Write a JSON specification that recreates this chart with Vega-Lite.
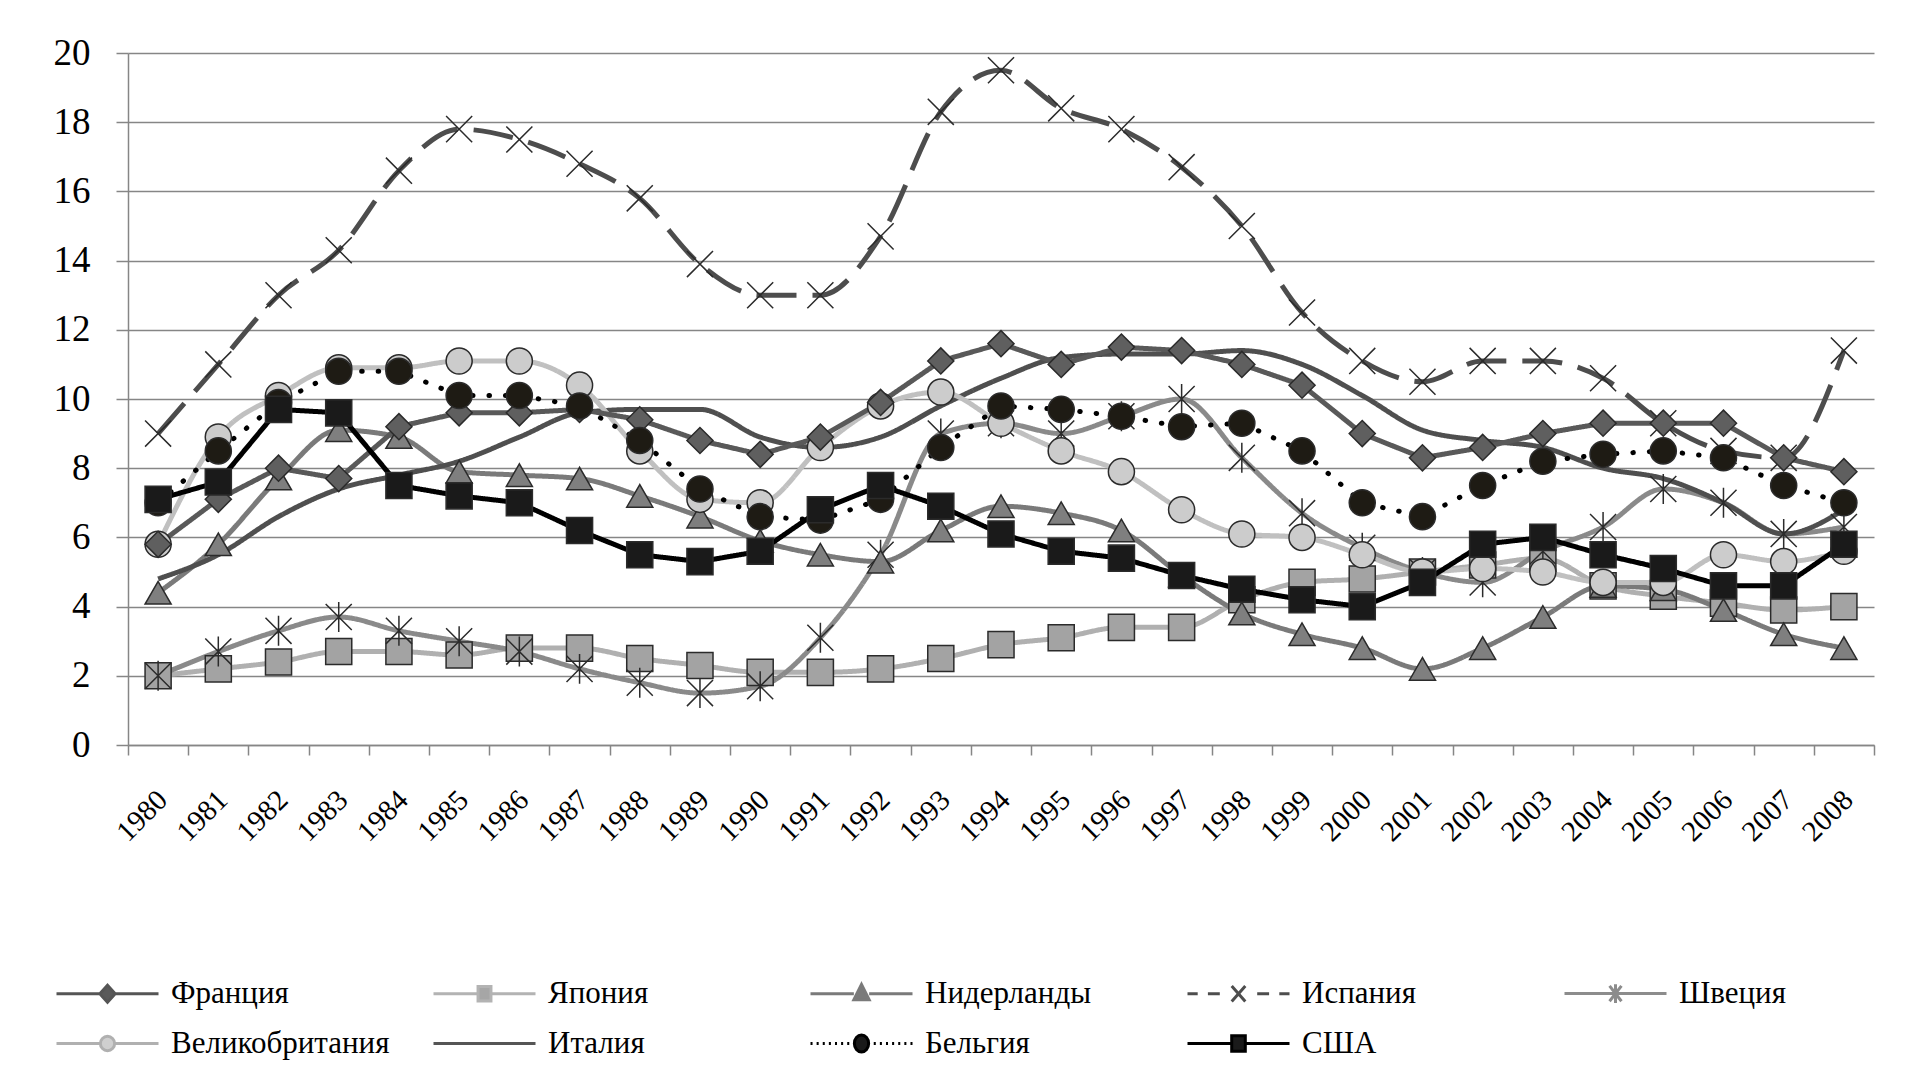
{
"$schema": "https://vega.github.io/schema/vega-lite/v6.json",
"autosize": "none",
"width": 1746,
"height": 692,
"padding": {"left": 128, "top": 53, "right": 33, "bottom": 332},
"background": "white",
"config": {"view": {"stroke": null}, "font": "Liberation Serif"},
"data": {"values": [
{"c":"Япония","t":"1980","v":2.0},{"c":"Япония","t":"1981","v":2.2},{"c":"Япония","t":"1982","v":2.4},{"c":"Япония","t":"1983","v":2.7},{"c":"Япония","t":"1984","v":2.7},{"c":"Япония","t":"1985","v":2.6},{"c":"Япония","t":"1986","v":2.8},{"c":"Япония","t":"1987","v":2.8},{"c":"Япония","t":"1988","v":2.5},{"c":"Япония","t":"1989","v":2.3},{"c":"Япония","t":"1990","v":2.1},{"c":"Япония","t":"1991","v":2.1},{"c":"Япония","t":"1992","v":2.2},{"c":"Япония","t":"1993","v":2.5},{"c":"Япония","t":"1994","v":2.9},{"c":"Япония","t":"1995","v":3.1},{"c":"Япония","t":"1996","v":3.4},{"c":"Япония","t":"1997","v":3.4},{"c":"Япония","t":"1998","v":4.2},{"c":"Япония","t":"1999","v":4.7},{"c":"Япония","t":"2000","v":4.8},{"c":"Япония","t":"2001","v":5.0},{"c":"Япония","t":"2002","v":5.2},{"c":"Япония","t":"2003","v":5.4},{"c":"Япония","t":"2004","v":4.6},{"c":"Япония","t":"2005","v":4.3},{"c":"Япония","t":"2006","v":4.1},{"c":"Япония","t":"2007","v":3.9},{"c":"Япония","t":"2008","v":4.0},
{"c":"Швеция","t":"1980","v":2.0},{"c":"Швеция","t":"1981","v":2.7},{"c":"Швеция","t":"1982","v":3.3},{"c":"Швеция","t":"1983","v":3.7},{"c":"Швеция","t":"1984","v":3.3},{"c":"Швеция","t":"1985","v":3.0},{"c":"Швеция","t":"1986","v":2.7},{"c":"Швеция","t":"1987","v":2.2},{"c":"Швеция","t":"1988","v":1.8},{"c":"Швеция","t":"1989","v":1.5},{"c":"Швеция","t":"1990","v":1.7},{"c":"Швеция","t":"1991","v":3.1},{"c":"Швеция","t":"1992","v":5.5},{"c":"Швеция","t":"1993","v":9.0},{"c":"Швеция","t":"1994","v":9.3},{"c":"Швеция","t":"1995","v":9.0},{"c":"Швеция","t":"1996","v":9.5},{"c":"Швеция","t":"1997","v":10.0},{"c":"Швеция","t":"1998","v":8.3},{"c":"Швеция","t":"1999","v":6.7},{"c":"Швеция","t":"2000","v":5.7},{"c":"Швеция","t":"2001","v":5.0},{"c":"Швеция","t":"2002","v":4.7},{"c":"Швеция","t":"2003","v":5.6},{"c":"Швеция","t":"2004","v":6.3},{"c":"Швеция","t":"2005","v":7.4},{"c":"Швеция","t":"2006","v":7.0},{"c":"Швеция","t":"2007","v":6.1},{"c":"Швеция","t":"2008","v":6.3},
{"c":"Нидерланды","t":"1980","v":4.4},{"c":"Нидерланды","t":"1981","v":5.8},{"c":"Нидерланды","t":"1982","v":7.7},{"c":"Нидерланды","t":"1983","v":9.1},{"c":"Нидерланды","t":"1984","v":8.9},{"c":"Нидерланды","t":"1985","v":7.9},{"c":"Нидерланды","t":"1986","v":7.8},{"c":"Нидерланды","t":"1987","v":7.7},{"c":"Нидерланды","t":"1988","v":7.2},{"c":"Нидерланды","t":"1989","v":6.6},{"c":"Нидерланды","t":"1990","v":5.9},{"c":"Нидерланды","t":"1991","v":5.5},{"c":"Нидерланды","t":"1992","v":5.3},{"c":"Нидерланды","t":"1993","v":6.2},{"c":"Нидерланды","t":"1994","v":6.9},{"c":"Нидерланды","t":"1995","v":6.7},{"c":"Нидерланды","t":"1996","v":6.2},{"c":"Нидерланды","t":"1997","v":4.9},{"c":"Нидерланды","t":"1998","v":3.8},{"c":"Нидерланды","t":"1999","v":3.2},{"c":"Нидерланды","t":"2000","v":2.8},{"c":"Нидерланды","t":"2001","v":2.2},{"c":"Нидерланды","t":"2002","v":2.8},{"c":"Нидерланды","t":"2003","v":3.7},{"c":"Нидерланды","t":"2004","v":4.6},{"c":"Нидерланды","t":"2005","v":4.5},{"c":"Нидерланды","t":"2006","v":3.9},{"c":"Нидерланды","t":"2007","v":3.2},{"c":"Нидерланды","t":"2008","v":2.8},
{"c":"Испания","t":"1980","v":9.0},{"c":"Испания","t":"1981","v":11.0},{"c":"Испания","t":"1982","v":13.0},{"c":"Испания","t":"1983","v":14.3},{"c":"Испания","t":"1984","v":16.6},{"c":"Испания","t":"1985","v":17.8},{"c":"Испания","t":"1986","v":17.5},{"c":"Испания","t":"1987","v":16.8},{"c":"Испания","t":"1988","v":15.8},{"c":"Испания","t":"1989","v":13.9},{"c":"Испания","t":"1990","v":13.0},{"c":"Испания","t":"1991","v":13.0},{"c":"Испания","t":"1992","v":14.7},{"c":"Испания","t":"1993","v":18.3},{"c":"Испания","t":"1994","v":19.5},{"c":"Испания","t":"1995","v":18.4},{"c":"Испания","t":"1996","v":17.8},{"c":"Испания","t":"1997","v":16.7},{"c":"Испания","t":"1998","v":15.0},{"c":"Испания","t":"1999","v":12.5},{"c":"Испания","t":"2000","v":11.1},{"c":"Испания","t":"2001","v":10.5},{"c":"Испания","t":"2002","v":11.1},{"c":"Испания","t":"2003","v":11.1},{"c":"Испания","t":"2004","v":10.6},{"c":"Испания","t":"2005","v":9.3},{"c":"Испания","t":"2006","v":8.5},{"c":"Испания","t":"2007","v":8.3},{"c":"Испания","t":"2008","v":11.4},
{"c":"Италия","t":"1980","v":4.8},{"c":"Италия","t":"1981","v":5.5},{"c":"Италия","t":"1982","v":6.6},{"c":"Италия","t":"1983","v":7.4},{"c":"Италия","t":"1984","v":7.8},{"c":"Италия","t":"1985","v":8.2},{"c":"Италия","t":"1986","v":8.9},{"c":"Италия","t":"1987","v":9.6},{"c":"Италия","t":"1988","v":9.7},{"c":"Италия","t":"1989","v":9.7},{"c":"Италия","t":"1990","v":8.9},{"c":"Италия","t":"1991","v":8.6},{"c":"Италия","t":"1992","v":8.9},{"c":"Италия","t":"1993","v":9.8},{"c":"Италия","t":"1994","v":10.6},{"c":"Италия","t":"1995","v":11.2},{"c":"Италия","t":"1996","v":11.3},{"c":"Италия","t":"1997","v":11.3},{"c":"Италия","t":"1998","v":11.4},{"c":"Италия","t":"1999","v":11.0},{"c":"Италия","t":"2000","v":10.1},{"c":"Италия","t":"2001","v":9.1},{"c":"Италия","t":"2002","v":8.8},{"c":"Италия","t":"2003","v":8.6},{"c":"Италия","t":"2004","v":8.0},{"c":"Италия","t":"2005","v":7.7},{"c":"Италия","t":"2006","v":7.0},{"c":"Италия","t":"2007","v":6.1},{"c":"Италия","t":"2008","v":6.8},
{"c":"Великобритания","t":"1980","v":5.8},{"c":"Великобритания","t":"1981","v":8.9},{"c":"Великобритания","t":"1982","v":10.1},{"c":"Великобритания","t":"1983","v":10.9},{"c":"Великобритания","t":"1984","v":10.9},{"c":"Великобритания","t":"1985","v":11.1},{"c":"Великобритания","t":"1986","v":11.1},{"c":"Великобритания","t":"1987","v":10.4},{"c":"Великобритания","t":"1988","v":8.5},{"c":"Великобритания","t":"1989","v":7.1},{"c":"Великобритания","t":"1990","v":7.0},{"c":"Великобритания","t":"1991","v":8.6},{"c":"Великобритания","t":"1992","v":9.8},{"c":"Великобритания","t":"1993","v":10.2},{"c":"Великобритания","t":"1994","v":9.3},{"c":"Великобритания","t":"1995","v":8.5},{"c":"Великобритания","t":"1996","v":7.9},{"c":"Великобритания","t":"1997","v":6.8},{"c":"Великобритания","t":"1998","v":6.1},{"c":"Великобритания","t":"1999","v":6.0},{"c":"Великобритания","t":"2000","v":5.5},{"c":"Великобритания","t":"2001","v":5.0},{"c":"Великобритания","t":"2002","v":5.1},{"c":"Великобритания","t":"2003","v":5.0},{"c":"Великобритания","t":"2004","v":4.7},{"c":"Великобритания","t":"2005","v":4.7},{"c":"Великобритания","t":"2006","v":5.5},{"c":"Великобритания","t":"2007","v":5.3},{"c":"Великобритания","t":"2008","v":5.6},
{"c":"Франция","t":"1980","v":5.8},{"c":"Франция","t":"1981","v":7.1},{"c":"Франция","t":"1982","v":8.0},{"c":"Франция","t":"1983","v":7.7},{"c":"Франция","t":"1984","v":9.2},{"c":"Франция","t":"1985","v":9.6},{"c":"Франция","t":"1986","v":9.6},{"c":"Франция","t":"1987","v":9.7},{"c":"Франция","t":"1988","v":9.4},{"c":"Франция","t":"1989","v":8.8},{"c":"Франция","t":"1990","v":8.4},{"c":"Франция","t":"1991","v":8.9},{"c":"Франция","t":"1992","v":9.9},{"c":"Франция","t":"1993","v":11.1},{"c":"Франция","t":"1994","v":11.6},{"c":"Франция","t":"1995","v":11.0},{"c":"Франция","t":"1996","v":11.5},{"c":"Франция","t":"1997","v":11.4},{"c":"Франция","t":"1998","v":11.0},{"c":"Франция","t":"1999","v":10.4},{"c":"Франция","t":"2000","v":9.0},{"c":"Франция","t":"2001","v":8.3},{"c":"Франция","t":"2002","v":8.6},{"c":"Франция","t":"2003","v":9.0},{"c":"Франция","t":"2004","v":9.3},{"c":"Франция","t":"2005","v":9.3},{"c":"Франция","t":"2006","v":9.3},{"c":"Франция","t":"2007","v":8.3},{"c":"Франция","t":"2008","v":7.9},
{"c":"Бельгия","t":"1980","v":7.0},{"c":"Бельгия","t":"1981","v":8.5},{"c":"Бельгия","t":"1982","v":9.9},{"c":"Бельгия","t":"1983","v":10.8},{"c":"Бельгия","t":"1984","v":10.8},{"c":"Бельгия","t":"1985","v":10.1},{"c":"Бельгия","t":"1986","v":10.1},{"c":"Бельгия","t":"1987","v":9.8},{"c":"Бельгия","t":"1988","v":8.8},{"c":"Бельгия","t":"1989","v":7.4},{"c":"Бельгия","t":"1990","v":6.6},{"c":"Бельгия","t":"1991","v":6.5},{"c":"Бельгия","t":"1992","v":7.1},{"c":"Бельгия","t":"1993","v":8.6},{"c":"Бельгия","t":"1994","v":9.8},{"c":"Бельгия","t":"1995","v":9.7},{"c":"Бельгия","t":"1996","v":9.5},{"c":"Бельгия","t":"1997","v":9.2},{"c":"Бельгия","t":"1998","v":9.3},{"c":"Бельгия","t":"1999","v":8.5},{"c":"Бельгия","t":"2000","v":7.0},{"c":"Бельгия","t":"2001","v":6.6},{"c":"Бельгия","t":"2002","v":7.5},{"c":"Бельгия","t":"2003","v":8.2},{"c":"Бельгия","t":"2004","v":8.4},{"c":"Бельгия","t":"2005","v":8.5},{"c":"Бельгия","t":"2006","v":8.3},{"c":"Бельгия","t":"2007","v":7.5},{"c":"Бельгия","t":"2008","v":7.0},
{"c":"США","t":"1980","v":7.1},{"c":"США","t":"1981","v":7.6},{"c":"США","t":"1982","v":9.7},{"c":"США","t":"1983","v":9.6},{"c":"США","t":"1984","v":7.5},{"c":"США","t":"1985","v":7.2},{"c":"США","t":"1986","v":7.0},{"c":"США","t":"1987","v":6.2},{"c":"США","t":"1988","v":5.5},{"c":"США","t":"1989","v":5.3},{"c":"США","t":"1990","v":5.6},{"c":"США","t":"1991","v":6.8},{"c":"США","t":"1992","v":7.5},{"c":"США","t":"1993","v":6.9},{"c":"США","t":"1994","v":6.1},{"c":"США","t":"1995","v":5.6},{"c":"США","t":"1996","v":5.4},{"c":"США","t":"1997","v":4.9},{"c":"США","t":"1998","v":4.5},{"c":"США","t":"1999","v":4.2},{"c":"США","t":"2000","v":4.0},{"c":"США","t":"2001","v":4.7},{"c":"США","t":"2002","v":5.8},{"c":"США","t":"2003","v":6.0},{"c":"США","t":"2004","v":5.5},{"c":"США","t":"2005","v":5.1},{"c":"США","t":"2006","v":4.6},{"c":"США","t":"2007","v":4.6},{"c":"США","t":"2008","v":5.8}
]},
"encoding": {
  "x": {"field": "t", "type": "ordinal", "bandPosition": 0.5,
        "scale": {"type": "band", "paddingInner": 0, "paddingOuter": 0},
        "axis": {"title": null, "labelAngle": -45, "labelAlign": "right", "labelBaseline": "middle", "labelFontSize": 29, "labelFont": "Liberation Serif, Times New Roman, serif", "labelColor": "#000000", "tickBand": "extent", "tickSize": 10, "tickColor": "#868686", "tickWidth": 1.5, "domainColor": "#868686", "domainWidth": 1.5, "grid": false, "labelPadding": 40, "labelOffset": 4, "labelOverlap": false}},
  "y": {"field": "v", "type": "quantitative", "scale": {"domain": [0, 20], "nice": false},
        "axis": {"title": null, "values": [0,2,4,6,8,10,12,14,16,18,20], "labelFontSize": 37, "labelFont": "Liberation Serif, Times New Roman, serif", "labelColor": "#000000", "tickSize": 12, "tickColor": "#868686", "tickWidth": 1.5, "domainColor": "#868686", "domainWidth": 1.5, "grid": true, "gridColor": "#868686", "gridWidth": 1.5, "labelPadding": 26}}
},
"layer": [
  {
    "transform": [{"filter": {"field": "c", "oneOf": ["Япония","Швеция","Нидерланды","Испания","Италия","Великобритания"]}}],
    "mark": {"type": "line", "interpolate": "monotone", "strokeWidth": 5},
    "encoding": {
      "stroke": {"field": "c", "type": "nominal", "legend": null,
        "scale": {"domain": ["Франция","Япония","Нидерланды","Испания","Швеция","Великобритания","Италия","Бельгия","США"],
                  "range": ["#595959","#b0b0b0","#7a7a7a","#4d4d4d","#8a8a8a","#c0c0c0","#4f4f4f","#000000","#000000"]}},
      "strokeDash": {"field": "c", "type": "nominal", "legend": null,
        "scale": {"domain": ["Франция","Япония","Нидерланды","Испания","Швеция","Великобритания","Италия","Бельгия","США"],
                  "range": [[1,0],[1,0],[1,0],[40,16],[1,0],[1,0],[1,0],[1,16],[1,0]]}}
    }
  },
  {
    "transform": [{"filter": {"field": "c", "oneOf": ["Франция","Бельгия","США"]}}],
    "mark": {"type": "line", "interpolate": "linear", "strokeWidth": 5, "strokeCap": "round"},
    "encoding": {
      "stroke": {"field": "c", "type": "nominal", "legend": null,
        "scale": {"domain": ["Франция","Япония","Нидерланды","Испания","Швеция","Великобритания","Италия","Бельгия","США"],
                  "range": ["#595959","#b0b0b0","#7a7a7a","#4d4d4d","#8a8a8a","#c0c0c0","#4f4f4f","#000000","#000000"]}},
      "strokeDash": {"field": "c", "type": "nominal", "legend": null,
        "scale": {"domain": ["Франция","Япония","Нидерланды","Испания","Швеция","Великобритания","Италия","Бельгия","США"],
                  "range": [[1,0],[1,0],[1,0],[40,16],[1,0],[1,0],[1,0],[0.5,16],[1,0]]}}
    }
  },
  {
    "transform": [{"filter": {"field": "c", "oneOf": ["Франция","Япония","Нидерланды","Испания","Швеция","Великобритания","Бельгия","США"]}}],
    "mark": {"type": "point", "filled": true, "size": 680, "strokeWidth": 1.5, "opacity": 1},
    "encoding": {
      "shape": {"field": "c", "type": "nominal", "legend": null,
        "scale": {"domain": ["Франция","Япония","Нидерланды","Испания","Швеция","Великобритания","Бельгия","США"],
                  "range": ["diamond","square","triangle-up","M-1,-1L1,1M-1,1L1,-1","M-1,-1L1,1M-1,1L1,-1M0,-1.15V1.15","circle","circle","square"]}},
      "fill": {"field": "c", "type": "nominal", "legend": null,
        "scale": {"domain": ["Франция","Япония","Нидерланды","Испания","Швеция","Великобритания","Бельгия","США"],
                  "range": ["#5f5f5f","#a3a3a3","#7f7f7f","#333333","#333333","#cccccc","#1e1b14","#1a1a1a"]}},
      "stroke": {"value": "#2b2b2b"}
    }
  },
  {
    "mark": {"type": "point", "filled": true, "opacity": 0, "size": 1156, "strokeWidth": 3},
    "encoding": {
      "shape": {"field": "c", "type": "nominal",
        "scale": {"domain": ["Франция","Япония","Нидерланды","Испания","Швеция","Великобритания","Италия","Бельгия","США"],
                  "range": [
                    "M-3,0H-0.45M0.45,0H3M0,-0.5L0.45,0L0,0.5L-0.45,0Z",
                    "M-3,0H-0.38M0.38,0H3M-0.38,-0.42H0.38V0.42H-0.38Z",
                    "M-3,0H-0.45M0.45,0H3M0,-0.55L0.45,0.35H-0.45Z",
                    "M-3,0H-2.4M-1.8,0H-1.1M1.1,0H1.8M2.4,0H3M-0.4,-0.45L0.4,0.45M-0.4,0.45L0.4,-0.45",
                    "M-3,0H3M-0.35,-0.45L0.35,0.45M-0.35,0.45L0.35,-0.45M0,-0.55V0.55",
                    "M-3,0H-0.42M0.42,0H3M-0.42,0A0.42,0.42 0 1 0 0.42,0A0.42,0.42 0 1 0 -0.42,0Z",
                    "M-3,0H3",
                    "M-3,0H-2.88M-2.64,0H-2.52M-2.28,0H-2.16M-1.92,0H-1.8M-1.56,0H-1.44M-1.2,0H-1.08M-0.84,0H-0.72M0.72,0H0.84M1.08,0H1.2M1.44,0H1.56M1.8,0H1.92M2.16,0H2.28M2.52,0H2.64M2.88,0H3M-0.42,0A0.42,0.5 0 1 0 0.42,0A0.42,0.5 0 1 0 -0.42,0Z",
                    "M-3,0H-0.4M0.4,0H3M-0.4,-0.45H0.4V0.45H-0.4Z"
                  ]},
        "legend": {"orient": "none", "legendX": -39, "legendY": 922, "direction": "horizontal", "columns": 5, "gridAlign": "all", "columnPadding": 37, "rowPadding": 16, "labelOffset": 45, "labelFontSize": 31, "labelFont": "Liberation Serif, Times New Roman, serif", "labelColor": "#000000", "symbolSize": 1156, "symbolStrokeWidth": 3, "symbolOpacity": 1, "title": null, "padding": 0, "labelLimit": 400}},
      "fill": {"field": "c", "type": "nominal",
        "scale": {"domain": ["Франция","Япония","Нидерланды","Испания","Швеция","Великобритания","Италия","Бельгия","США"],
                  "range": ["#5a5a5a","#a6a6a6","#7a7a7a","#4d4d4d","#8c8c8c","#cfcfcf","#555555","#1a1a1a","#1a1a1a"]},
        "legend": {"orient": "none", "legendX": -39, "legendY": 922, "direction": "horizontal", "columns": 5, "gridAlign": "all", "columnPadding": 37, "rowPadding": 16, "labelOffset": 45, "labelFontSize": 31, "labelFont": "Liberation Serif, Times New Roman, serif", "labelColor": "#000000", "symbolSize": 1156, "symbolStrokeWidth": 3, "symbolOpacity": 1, "title": null, "padding": 0, "labelLimit": 400}},
      "stroke": {"field": "c", "type": "nominal",
        "scale": {"domain": ["Франция","Япония","Нидерланды","Испания","Швеция","Великобритания","Италия","Бельгия","США"],
                  "range": ["#555555","#b3b3b3","#7a7a7a","#4d4d4d","#8c8c8c","#b0b0b0","#555555","#000000","#000000"]},
        "legend": {"orient": "none", "legendX": -39, "legendY": 922, "direction": "horizontal", "columns": 5, "gridAlign": "all", "columnPadding": 37, "rowPadding": 16, "labelOffset": 45, "labelFontSize": 31, "labelFont": "Liberation Serif, Times New Roman, serif", "labelColor": "#000000", "symbolSize": 1156, "symbolStrokeWidth": 3, "symbolOpacity": 1, "title": null, "padding": 0, "labelLimit": 400}}
    }
  }
],
"resolve": {"scale": {"shape": "independent", "fill": "independent", "stroke": "independent", "strokeDash": "independent"}}
}
